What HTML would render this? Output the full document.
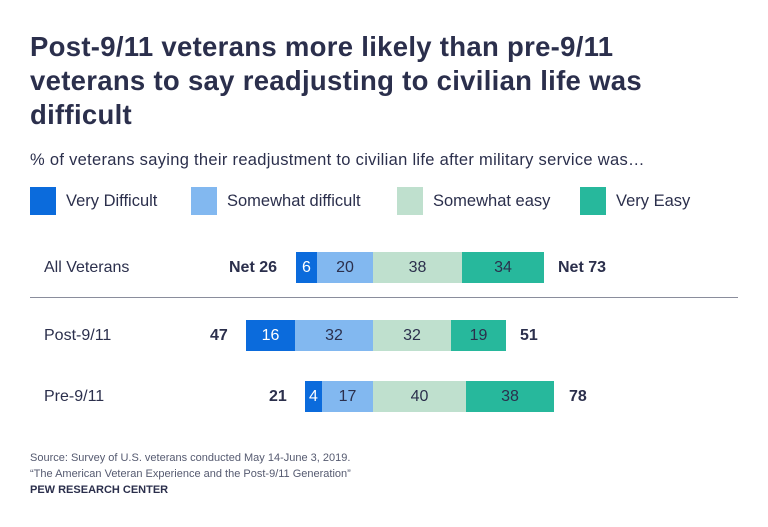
<!DOCTYPE html><html><head><style>
body{margin:0;width:768px;height:527px;background:#fff;font-family:"Liberation Sans",sans-serif;color:#2b2f4c;position:relative;overflow:hidden}
.a{position:absolute;white-space:nowrap}
.t{left:30px;top:30px;font-size:27.5px;font-weight:bold;line-height:34px;letter-spacing:0.3px}
.sq{position:absolute;width:26px;height:28px}
.lg{font-size:16.5px;top:192px}
.s{position:absolute;height:31px;line-height:31px;text-align:center;font-size:16px}
.lab{font-size:16px;left:44px}
.n{font-size:16px;font-weight:bold}
.f{font-size:11px;left:30px;color:#555a70}
</style></head><body>
<div class="a t">Post-9/11 veterans more likely than pre-9/11<br>veterans to say readjusting to civilian life was<br>difficult</div>
<div class="a" style="left:30px;top:151px;font-size:16.5px;letter-spacing:0.3px">% of veterans saying their readjustment to civilian life after military service was…</div>
<div class="sq" style="left:30px;top:187px;background:#0b6bdc"></div><div class="a lg" style="left:66px">Very Difficult</div>
<div class="sq" style="left:191px;top:187px;background:#82b8f0"></div><div class="a lg" style="left:227px">Somewhat difficult</div>
<div class="sq" style="left:397px;top:187px;background:#bfe0ce"></div><div class="a lg" style="left:433px">Somewhat easy</div>
<div class="sq" style="left:580px;top:187px;background:#27b89c"></div><div class="a lg" style="left:616px">Very Easy</div>

<div class="a lab" style="top:259px">All Veterans</div>
<div class="a n" style="left:229px;top:259px">Net 26</div>
<div class="s" style="left:296px;width:21px;top:252px;background:#0b6bdc;color:#fff">6</div>
<div class="s" style="left:317px;width:56px;top:252px;background:#82b8f0">20</div>
<div class="s" style="left:373px;width:89px;top:252px;background:#bfe0ce">38</div>
<div class="s" style="left:462px;width:82px;top:252px;background:#27b89c">34</div>
<div class="a n" style="left:558px;top:259px">Net 73</div>
<div class="a" style="left:30px;top:297px;width:708px;height:1px;background:#8a8d9c"></div>

<div class="a lab" style="top:327px">Post-9/11</div>
<div class="a n" style="left:210px;top:327px">47</div>
<div class="s" style="left:246px;width:49px;top:320px;background:#0b6bdc;color:#fff">16</div>
<div class="s" style="left:295px;width:78px;top:320px;background:#82b8f0">32</div>
<div class="s" style="left:373px;width:78px;top:320px;background:#bfe0ce">32</div>
<div class="s" style="left:451px;width:55px;top:320px;background:#27b89c">19</div>
<div class="a n" style="left:520px;top:327px">51</div>

<div class="a lab" style="top:388px">Pre-9/11</div>
<div class="a n" style="left:269px;top:388px">21</div>
<div class="s" style="left:305px;width:17px;top:381px;background:#0b6bdc;color:#fff">4</div>
<div class="s" style="left:322px;width:51px;top:381px;background:#82b8f0">17</div>
<div class="s" style="left:373px;width:93px;top:381px;background:#bfe0ce">40</div>
<div class="s" style="left:466px;width:88px;top:381px;background:#27b89c">38</div>
<div class="a n" style="left:569px;top:388px">78</div>

<div class="a f" style="top:452px">Source: Survey of U.S. veterans conducted May 14-June 3, 2019.</div>
<div class="a f" style="top:468px">“The American Veteran Experience and the Post-9/11 Generation”</div>
<div class="a f" style="top:484px;font-weight:bold;color:#2b2f4c">PEW RESEARCH CENTER</div>
</body></html>
